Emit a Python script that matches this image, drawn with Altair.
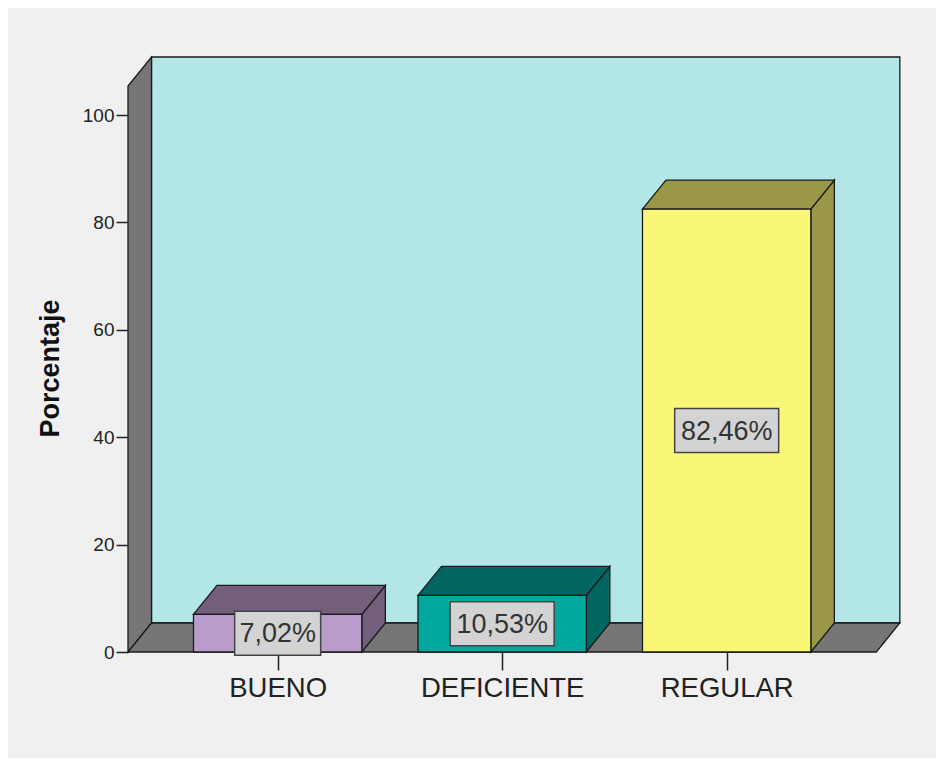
import json
import altair as alt
import pandas as pd

# ---- data ----
categories = ["BUENO", "DEFICIENTE", "REGULAR"]
percentages = [7.02, 10.53, 82.46]
value_labels = ["7,02%", "10,53%", "82,46%"]
y_ticks = [0, 20, 40, 60, 80, 100]
front_colors = ["#B99CCB", "#00A89E", "#FAF777"]
shade_colors = ["#735F7B", "#00665F", "#9A9748"]

# ---- layout constants ----
W, H = 772, 595
PXX, PXY = 224.5, 5.37          # pixels per category unit / per percent
X0 = -2 / 3
XF = 2 + 2 / 3
X_DOM = [X0, X0 + W / PXX]
Y_DOM = [0, H / PXY]
DX = 23.5 / PXX                 # 3D depth in x
DY = 29 / PXY                   # 3D depth in y
HALF = 0.375
WALL_TOP = 105.4
FONT = "Liberation Sans"
EDGE = "#1a1a1a"

xs = alt.Scale(domain=X_DOM, nice=False, zero=False)
ys = alt.Scale(domain=Y_DOM, nice=False, zero=False)

pos = list(range(len(categories)))
label_expr = json.dumps(categories) + "[datum.value]"

X_AXIS = alt.Axis(
    values=pos, labelExpr=label_expr, title=None, grid=False, domain=False,
    tickSize=18, tickWidth=1.5, tickColor="#222", labelFont=FONT, labelFontSize=27.5,
    labelColor="#222", labelPadding=4, labelFlush=False)
Y_AXIS = alt.Axis(
    values=y_ticks, title="Porcentaje", grid=False, domain=False,
    tickSize=12, tickWidth=1.5, tickColor="#222", labelFont=FONT, labelFontSize=19,
    labelColor="#222", labelPadding=2, titleFont=FONT, titleFontSize=27,
    titleFontWeight="bold", titleColor="#111", titleAngle=270,
    titleX=-70, titleY=311, titleAlign="center", titleBaseline="alphabetic")


def X(field, **kw):
    return alt.X(field, scale=xs, axis=X_AXIS, **kw)


def Y(field, **kw):
    return alt.Y(field, scale=ys, axis=Y_AXIS, **kw)


bars = pd.DataFrame({"cat": categories, "pos": pos, "v": percentages, "lab": value_labels})
bars["x0"] = bars["pos"] - HALF
bars["x1"] = bars["pos"] + HALF
bars["mid"] = bars["v"] / 2
half_box = [(18 * len(s) - 4) / 2 / PXX for s in value_labels]
bars["bx0"] = bars["pos"] - half_box
bars["bx1"] = bars["pos"] + half_box
bars["by0"] = bars["mid"] - 22 / PXY
bars["by1"] = bars["mid"] + 22 / PXY

side_rows, top_rows = [], []
for c, p, v in zip(categories, pos, percentages):
    side_rows.append({"cat": c, "x": p + HALF, "lo": 0, "hi": v})
    side_rows.append({"cat": c, "x": p + HALF + DX, "lo": DY, "hi": v + DY})
    top_rows.append({"cat": c, "y": v, "xl": p - HALF, "xr": p + HALF})
    top_rows.append({"cat": c, "y": v + DY, "xl": p - HALF + DX, "xr": p + HALF + DX})
side = pd.DataFrame(side_rows)
top = pd.DataFrame(top_rows)

back = pd.DataFrame({"x": [X0 + DX], "x2": [XF + DX], "y": [DY], "y2": [WALL_TOP + DY]})
leftwall = pd.DataFrame({"x": [X0, X0 + DX], "lo": [0, DY], "hi": [WALL_TOP, WALL_TOP + DY]})
floor = pd.DataFrame({"y": [0, DY], "xl": [X0, X0 + DX], "xr": [XF, XF + DX]})

back_layer = alt.Chart(back).mark_rect(fill="#B3E6E6", stroke=EDGE, strokeWidth=1.3).encode(
    x=X("x:Q"), x2="x2:Q", y=Y("y:Q"), y2="y2:Q",
)

left_layer = alt.Chart(leftwall).mark_area(orient="vertical", fill="#767676", stroke=EDGE, strokeWidth=1.3).encode(
    x=X("x:Q"), y=Y("lo:Q", stack=None), y2="hi:Q",
)

floor_layer = alt.Chart(floor).mark_area(orient="horizontal", fill="#767676", stroke=EDGE, strokeWidth=1.3).encode(
    y=Y("y:Q"), x=X("xl:Q", stack=None), x2="xr:Q",
)

shade_color = alt.Color("cat:N", scale=alt.Scale(domain=categories, range=shade_colors), legend=None)

side_layer = alt.Chart(side).mark_area(orient="vertical", stroke=EDGE, strokeWidth=1.3, fillOpacity=1).encode(
    x=X("x:Q"), y=Y("lo:Q", stack=None), y2="hi:Q",
    detail="cat:N", color=shade_color,
)

top_layer = alt.Chart(top).mark_area(orient="horizontal", stroke=EDGE, strokeWidth=1.3, fillOpacity=1).encode(
    y=Y("y:Q"), x=X("xl:Q", stack=None), x2="xr:Q",
    detail="cat:N", color=shade_color,
)

front_layer = alt.Chart(bars).mark_rect(stroke=EDGE, strokeWidth=1.3).encode(
    x=X("x0:Q"), x2="x1:Q", y=Y("v:Q"), y2=alt.datum(0),
    fill=alt.Fill("cat:N", scale=alt.Scale(domain=categories, range=front_colors), legend=None),
)

box_layer = alt.Chart(bars).mark_rect(fill="#D3D3D3", stroke="#444", strokeWidth=1.5).encode(
    x=X("bx0:Q"), x2="bx1:Q", y=Y("by0:Q"), y2="by1:Q",
)

text_layer = alt.Chart(bars).mark_text(font=FONT, fontSize=27, color="#333", baseline="middle", dy=1).encode(
    x=X("pos:Q"), y=Y("mid:Q"), text="lab:N",
)

chart = alt.layer(
    back_layer, left_layer, floor_layer, side_layer, top_layer, front_layer, box_layer, text_layer
).resolve_scale(color="independent", fill="independent").properties(
    width=W, height=H, autosize="none",
    padding={"left": 120, "top": 49, "right": 36, "bottom": 106},
    background="#F0F0F0",
).configure_view(stroke=None)

chart.save("out.html", embed_options={"renderer": "svg", "actions": False})
